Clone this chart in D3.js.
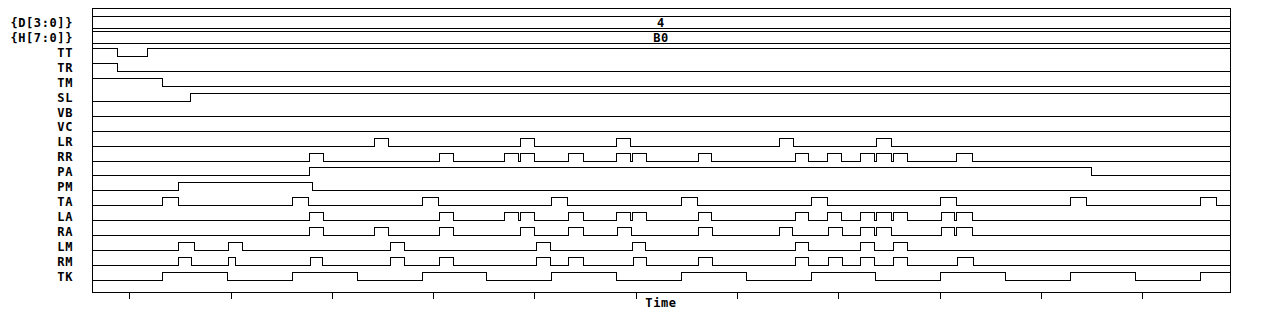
<!DOCTYPE html>
<html lang="en">
<head>
  <meta charset="UTF-8">
  <title>Timing diagram</title>
  <script src="https://cdn.jsdelivr.net/npm/d3@7/dist/d3.min.js"></script>
  <style>
    body { margin: 0; background: #fff; }
    text { font-family: "DejaVu Sans Mono", monospace; font-weight: bold; font-size: 12px; fill: #000; letter-spacing: 0.6px; }
  </style>
</head>
<body>
  <svg id="wave" width="1264" height="312"></svg>
  <script>
    // rows, top to bottom
    const rows = ['{D[3:0]}', '{H[7:0]}', 'TT', 'TR', 'TM', 'SL', 'VB', 'VC', 'LR', 'RR',
      'PA', 'PM', 'TA', 'LA', 'RA', 'LM', 'RM', 'TK'];

    // bus rows and their (constant) values
    const busNames = ['{D[3:0]}', '{H[7:0]}'];
    const busValues = ['4', 'B0'];

    // start level of every bit signal
    const initLevel = {
      TT: 1, TR: 1, TM: 1, SL: 0, VB: 0, VC: 0, LR: 0, RR: 0,
      PA: 0, PM: 0, TA: 0, LA: 0, RA: 0, LM: 0, RM: 0, TK: 0
    };

    // toggle times (ns)
    const ttEdges = [88, 118];
    const trEdges = [88];
    const tmEdges = [133];
    const slEdges = [160];
    const vbEdges = [];
    const vcEdges = [];
    const lrEdges = [342, 356, 486, 500, 581, 595, 742, 756, 838, 852];
    const rrEdges = [278, 292, 406, 420, 470, 484, 486, 500, 534, 548, 581, 595, 597, 611,
      662, 675, 758, 771, 789, 803, 822, 836, 838, 852, 854, 868, 917, 932];
    const paEdges = [278, 1050];
    const pmEdges = [149, 281];
    const taEdges = [133, 149, 261, 277, 389, 405, 517, 533, 645, 661, 773, 789, 901, 917,
      1029, 1045, 1157, 1173];
    const laEdges = [278, 292, 406, 420, 470, 484, 486, 500, 534, 548, 581, 595, 597, 611,
      662, 675, 758, 771, 789, 803, 822, 836, 838, 852, 854, 868, 902, 915, 917, 932];
    const raEdges = [278, 292, 342, 356, 406, 420, 486, 500, 534, 548, 582, 596, 662, 676,
      742, 755, 790, 804, 822, 836, 838, 852, 902, 915, 917, 932];
    const lmEdges = [149, 164, 198, 212, 358, 372, 502, 516, 597, 610, 758, 771, 822, 836, 854, 868];
    const rmEdges = [149, 161, 198, 205, 279, 291, 358, 372, 406, 420, 502, 516, 534, 548,
      598, 611, 662, 676, 758, 771, 790, 804, 822, 836, 854, 868, 918, 933];
    const tkEdges = [133, 197, 261, 325, 389, 453, 517, 581, 645, 709, 773, 837, 901, 965,
      1029, 1093, 1157];

    const timeStart = 63.2, timeEnd = 1186.6;
    const timeTicks = [100, 200, 300, 400, 500, 600, 700, 800, 900, 1000, 1100];

    const edges = {
      TT: ttEdges, TR: trEdges, TM: tmEdges, SL: slEdges, VB: vbEdges, VC: vcEdges,
      LR: lrEdges, RR: rrEdges, PA: paEdges, PM: pmEdges, TA: taEdges, LA: laEdges,
      RA: raEdges, LM: lmEdges, RM: rmEdges, TK: tkEdges
    };

    const svg = d3.select('#wave');
    const plotL = 92, plotR = 1230, plotT = 8, plotB = 292;

    const x = d3.scaleLinear().domain([timeStart, timeEnd]).range([plotL, plotR]);
    const y = d3.scalePoint().domain(rows).range([22.6, 276.5]);

    const px = v => Math.floor(v) + 0.5;

    // frame
    svg.append('rect')
      .attr('x', plotL + 0.5).attr('y', plotT + 0.5)
      .attr('width', plotR - plotL).attr('height', plotB - plotT)
      .attr('fill', 'none').attr('stroke', '#000')
      .attr('shape-rendering', 'crispEdges');

    // labels
    svg.append('g').selectAll('text')
      .data(rows)
      .enter()
      .append('text')
      .attr('x', 73)
      .attr('y', d => y(d))
      .attr('dy', '0.36em')
      .attr('text-anchor', 'end')
      .text(d => d);

    // bus rows
    busNames.forEach((b, i) => {
      const g = svg.append('g');
      [-6, 6].forEach(off => {
        g.append('line')
          .attr('x1', plotL).attr('x2', plotR)
          .attr('y1', px(y(b) + off)).attr('y2', px(y(b) + off))
          .attr('stroke', '#000')
          .attr('shape-rendering', 'crispEdges');
      });
      g.append('text')
        .attr('x', (x(timeStart) + x(timeEnd)) / 2)
        .attr('y', y(b))
        .attr('dy', '0.36em')
        .attr('text-anchor', 'middle')
        .text(busValues[i]);
    });

    // bit signals
    const line = d3.line()
      .x(d => px(x(d[0])))
      .y(d => d[2])
      .curve(d3.curveStepAfter);

    Object.keys(edges).forEach(name => {
      let lvl = initLevel[name];
      const hi = px(y(name) - 4), lo = px(y(name) + 4);
      const pts = [[timeStart, lvl, lvl ? hi : lo]];
      edges[name].forEach(t => {
        lvl = 1 - lvl;
        pts.push([t, lvl, lvl ? hi : lo]);
      });
      pts.push([timeEnd, lvl, lvl ? hi : lo]);
      svg.append('path')
        .attr('d', line(pts))
        .attr('fill', 'none')
        .attr('stroke', '#000')
        .attr('shape-rendering', 'crispEdges');
    });

    // time axis
    const axis = svg.append('g')
      .attr('transform', `translate(0, ${plotB + 0.5})`)
      .call(d3.axisBottom(x).tickValues(timeTicks).tickSize(6).tickFormat(''));
    axis.select('.domain').remove();
    axis.selectAll('line').attr('shape-rendering', 'crispEdges');

    svg.append('text')
      .attr('x', (plotL + plotR) / 2)
      .attr('y', 307)
      .attr('text-anchor', 'middle')
      .text('Time');
  </script>
</body>
</html>
